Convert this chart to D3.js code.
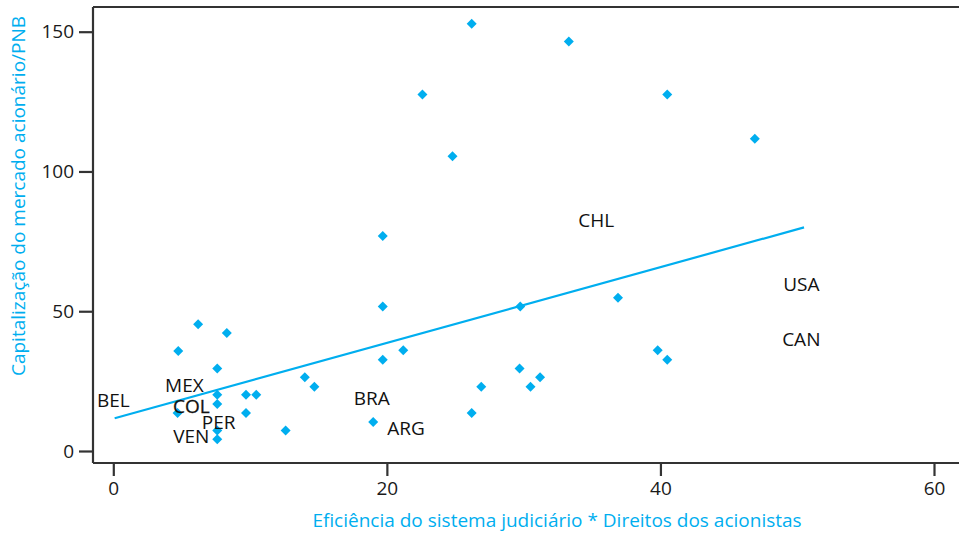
<!DOCTYPE html>
<html lang="pt">
<head>
    <meta charset="UTF-8">
    <script src="https://d3js.org/d3.v7.min.js"></script>
    <title>Capitalização vs eficiência judiciária</title>
    <style>
        body { margin: 0; background: #fff; }
        svg text { font-family: "Open Sans", sans-serif; }
    </style>
</head>
<body>
    <script>
        // data
        const xValues = [26.2, 33.3, 22.6, 40.5, 46.9, 24.8, 19.7, 19.7, 29.75, 36.9,
                         19.7, 21.2, 14.0, 14.7, 19.0, 26.2, 26.9, 29.7, 30.5, 31.2,
                         39.8, 40.5, 6.2, 8.3, 4.75, 7.6, 7.6, 7.6, 9.7, 10.45,
                         9.7, 12.6, 4.7, 7.6, 7.6];
        const yValues = [152.8, 146.5, 127.5, 127.5, 111.7, 105.4, 76.9, 51.7, 51.7, 54.8,
                         32.6, 36.0, 26.4, 23.0, 10.4, 13.6, 23.0, 29.5, 23.0, 26.4,
                         36.0, 32.6, 45.3, 42.2, 35.8, 29.5, 20.1, 16.8, 20.1, 20.1,
                         13.6, 7.3, 13.6, 7.3, 4.2];

        const labelNames = ["BEL", "MEX", "COL", "PER", "VEN", "BRA", "ARG", "CHL", "USA", "CAN"];
        const labelX = [0, 5.2, 5.7, 7.7, 5.7, 18.9, 21.4, 35.3, 50.3, 50.3];
        const labelY = [15.8, 21.0, 13.7, 7.8, 3.0, 16.5, 5.7, 80.0, 57.1, 37.4];

        const fitX = [0.1, 50.5];
        const fitY = [11.7, 80.0];

        const xTicks = [0, 20, 40, 60];
        const yTicks = [0, 50, 100, 150];

        const xTitle = "Eficiência do sistema judiciário * Direitos dos acionistas";
        const yTitle = "Capitalização do mercado acionário/PNB";

        const w = 959;
        const h = 534;
        const blue = "#00aeef";
        const plot = {left: 93, right: 959, top: 7, bottom: 463};

        const svg = d3.select("body").append("svg")
            .attr("width", w)
            .attr("height", h);

        const x = d3.scaleLinear().domain([0, 60]).range([113.3, 934]);
        const y = d3.scaleLinear().domain([0, 150]).range([451, 31.7]);

        // frame: top line, left axis, bottom axis
        const frame = svg.append("g")
            .attr("stroke", "#333")
            .attr("stroke-width", 2.2);
        frame.append("line")
            .attr("x1", plot.left).attr("x2", plot.right)
            .attr("y1", plot.top).attr("y2", plot.top);
        frame.append("line")
            .attr("x1", plot.left).attr("x2", plot.left)
            .attr("y1", plot.top).attr("y2", plot.bottom);
        frame.append("line")
            .attr("x1", plot.left).attr("x2", plot.right)
            .attr("y1", plot.bottom).attr("y2", plot.bottom);

        const xAxis = svg.append("g")
            .attr("transform", `translate(0,${plot.bottom})`)
            .call(d3.axisBottom(x).tickValues(xTicks).tickSize(13).tickPadding(6));
        const yAxis = svg.append("g")
            .attr("transform", `translate(${plot.left},0)`)
            .call(d3.axisLeft(y).tickValues(yTicks).tickSize(14).tickPadding(5));

        [xAxis, yAxis].forEach(a => {
            a.select(".domain").remove();
            a.selectAll(".tick line").attr("stroke", "#333").attr("stroke-width", 2.2);
            a.selectAll(".tick text")
                .attr("fill", "#1a1a1a")
                .style("font-size", "19px");
        });

        // fitted line
        svg.append("path")
            .datum(d3.zip(fitX, fitY))
            .attr("fill", "none")
            .attr("stroke", blue)
            .attr("stroke-width", 2.2)
            .attr("d", d3.line().x(d => x(d[0])).y(d => y(d[1])));

        // points
        const diamond = d3.symbol().type(d3.symbolSquare).size(50);
        svg.append("g")
            .selectAll("path")
            .data(d3.zip(xValues, yValues))
            .join("path")
            .attr("d", diamond)
            .attr("fill", blue)
            .attr("transform", d => `translate(${x(d[0])},${y(d[1])}) rotate(45)`);

        // country labels (they overlap in the original too)
        svg.append("g")
            .selectAll("text")
            .data(labelNames)
            .join("text")
            .attr("x", (d, i) => x(labelX[i]))
            .attr("y", (d, i) => y(labelY[i]))
            .attr("text-anchor", "middle")
            .attr("fill", "#111")
            .attr("stroke", d => d === "COL" ? "#111" : "none")
            .attr("stroke-width", 0.3)
            .style("font-size", "19px")
            .text(d => d);

        // axis titles
        svg.append("text")
            .attr("x", 557)
            .attr("y", 527)
            .attr("text-anchor", "middle")
            .attr("fill", blue)
            .style("font-size", "19px")
            .text(xTitle);

        svg.append("text")
            .attr("transform", "translate(25,196) rotate(-90)")
            .attr("text-anchor", "middle")
            .attr("fill", blue)
            .style("font-size", "19px")
            .text(yTitle);
    </script>
</body>
</html>
